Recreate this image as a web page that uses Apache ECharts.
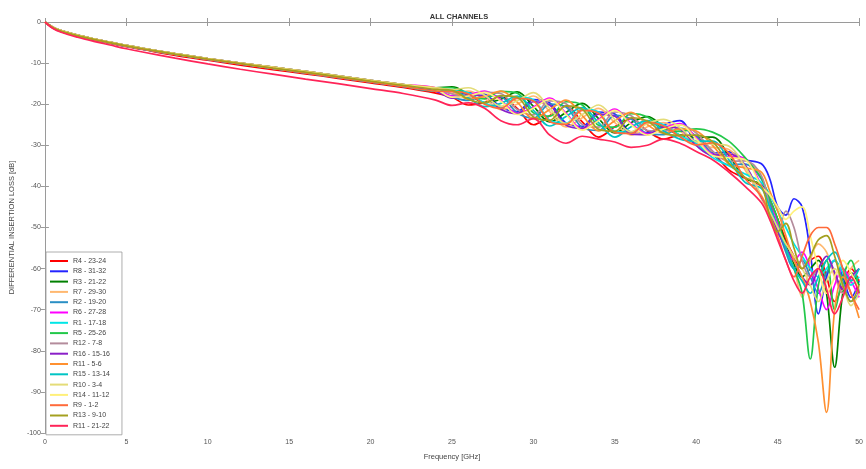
<!DOCTYPE html>
<html>
<head>
<meta charset="utf-8">
<script src="https://cdn.jsdelivr.net/npm/echarts@6/dist/echarts.min.js"></script>
<style>html,body{margin:0;padding:0;background:#fff}#c{width:866px;height:469px}</style>
</head>
<body>
<div id="c"></div>
<script>
// Frequency grid [GHz]
const freq = [0,0.5,1,2,3,4,5,6,8,10,12,14,16,18,20,22,24,
  25,26,27,28,29,30,31,32,33,34,35,36,37,38,39,40,41,42,43,44,
  44.5,45,45.5,46,46.5,47,47.5,48,48.5,49,49.5,50];

const xTicks = [0,5,10,15,20,25,30,35,40,45,50];
const yTicks = [0,-10,-20,-30,-40,-50,-60,-70,-80,-90,-100];

const names = ["R4 - 23-24","R8 - 31-32","R3 - 21-22","R7 - 29-30","R2 - 19-20","R6 - 27-28",
  "R1 - 17-18","R5 - 25-26","R12 - 7-8","R16 - 15-16","R11 - 5-6","R15 - 13-14",
  "R10 - 3-4","R14 - 11-12","R9 - 1-2","R13 - 9-10","R11 - 21-22"];

const r4 = [0,-1.5,-2.3,-3.4,-4.4,-5.2,-6.0,-6.7,-8.1,-9.3,-10.5,-11.6,-12.6,-13.7,-14.8,-15.9,-17.3,
  -18.3,-20.2,-19.6,-18.3,-21.0,-25.0,-22.8,-20.5,-24.3,-28.0,-25.5,-23.5,-26.5,-28.5,-27.5,-28.0,-31.5,-36.0,-38.0,-40.0,
  -44,-48,-53,-57,-60,-58,-57,-62,-68,-64,-60,-63];
const r8 = [0,-1.4,-2.2,-3.3,-4.2,-5.0,-5.8,-6.5,-7.8,-9.0,-10.1,-11.2,-12.2,-13.3,-14.4,-15.4,-16.4,
  -18.0,-17.2,-17.6,-20.7,-21.8,-18.9,-19.7,-24.6,-25.4,-21.9,-22.4,-26.8,-26.9,-25.0,-24.0,-29.6,-31.9,-31.6,-33.5,-34.5,
  -38,-45,-47,-43,-45,-56,-71,-62,-58,-62,-67,-63];
const r3 = [0,-1.3,-2.1,-3.2,-4.1,-4.9,-5.7,-6.4,-7.7,-8.9,-10.0,-11.0,-12.0,-13.1,-14.2,-15.2,-16.0,
  -15.8,-17.5,-19.6,-18.8,-17.0,-20.5,-24.3,-22.0,-19.8,-23.5,-27.0,-24.5,-23.0,-25.5,-27.5,-28.0,-28.0,-32.5,-38.0,-39.5,
  -43,-48,-54,-59,-62,-60,-58,-66,-84,-66,-61,-64];
const r7 = [0,-1.4,-2.2,-3.3,-4.2,-5.0,-5.8,-6.5,-7.8,-9.0,-10.1,-11.2,-12.2,-13.3,-14.4,-15.4,-16.4,
  -17.3,-16.8,-18.6,-21.3,-20.0,-18.0,-21.8,-25.5,-23.3,-21.0,-24.5,-27.5,-25.5,-24.5,-26.5,-30.0,-30.5,-31.0,-36.0,-43.0,
  -47,-50,-55,-60,-67,-58,-54,-56,-62,-66,-60,-58];
const r2 = [0,-1.4,-2.3,-3.4,-4.3,-5.1,-5.9,-6.6,-7.9,-9.1,-10.2,-11.3,-12.4,-13.5,-14.6,-15.7,-16.8,
  -18.3,-19.1,-17.9,-18.2,-22.1,-23.4,-20.0,-20.7,-25.7,-26.4,-22.7,-23.6,-27.2,-27.4,-25.8,-27.8,-32.2,-34.7,-34.6,-38.2,
  -44,-50,-56,-60,-58,-62,-66,-61,-58,-63,-68,-66];
const r6 = [0,-1.3,-2.1,-3.2,-4.1,-4.9,-5.7,-6.4,-7.7,-8.9,-10.0,-11.0,-12.0,-13.1,-14.2,-15.2,-16.0,
  -18.0,-17.7,-16.8,-19.0,-22.2,-20.7,-18.5,-22.2,-26.0,-23.7,-21.2,-24.7,-27.2,-25.7,-24.7,-28.2,-32.2,-32.7,-33.2,-39.7,
  -43,-49,-55,-58,-56,-60,-65,-70,-64,-60,-63,-67];
const r1 = [0,-1.4,-2.2,-3.3,-4.2,-5.0,-5.8,-6.5,-7.8,-9.0,-10.1,-11.2,-12.2,-13.3,-14.4,-15.4,-16.4,
  -16.6,-17.2,-19.7,-20.7,-18.3,-18.9,-23.9,-24.6,-21.2,-21.9,-26.6,-26.8,-24.1,-25.0,-27.6,-29.6,-33.0,-35.0,-37.0,-39.0,
  -42,-46,-50,-54,-57,-60,-62,-60,-58,-61,-64,-62];
const r5 = [0,-1.3,-2.1,-3.2,-4.1,-4.9,-5.7,-6.4,-7.7,-8.9,-10.0,-11.0,-12.0,-13.1,-14.2,-15.2,-16.0,
  -16.0,-17.8,-18.7,-16.9,-17.3,-22.1,-22.9,-19.4,-20.2,-25.1,-25.6,-22.3,-23.1,-26.0,-26.6,-26.0,-26.8,-29.0,-33.0,-38.0,
  -43,-48,-55,-60,-66,-82,-64,-58,-70,-62,-58,-66];
const r12 = [0,-1.4,-2.2,-3.3,-4.2,-5.0,-5.8,-6.5,-7.8,-9.0,-10.1,-11.2,-12.2,-13.3,-14.4,-15.4,-16.4,
  -17.5,-18.3,-17.1,-17.4,-21.3,-22.6,-19.2,-19.9,-24.9,-25.6,-21.9,-22.8,-26.4,-26.6,-25.0,-27.0,-31.4,-33.9,-33.8,-37.4,
  -45,-52,-46,-50,-58,-62,-60,-57,-61,-66,-63,-60];
const r16 = [0,-1.4,-2.3,-3.4,-4.3,-5.1,-5.9,-6.6,-7.9,-9.1,-10.2,-11.3,-12.4,-13.5,-14.6,-15.7,-16.8,
  -18.5,-17.7,-18.1,-21.2,-22.3,-19.4,-20.2,-25.1,-25.9,-22.4,-22.9,-27.3,-27.4,-25.5,-26.0,-30.1,-32.4,-32.1,-34.8,-42.6,
  -46,-51,-55,-58,-62,-64,-60,-57,-61,-65,-62,-60];
const r11a = [0,-1.3,-2.1,-3.2,-4.1,-4.9,-5.7,-6.4,-7.7,-8.9,-10.0,-11.0,-12.0,-13.1,-14.2,-15.2,-16.0,
  -16.8,-18.7,-18.1,-16.8,-19.5,-23.5,-21.3,-19.0,-22.8,-26.5,-24.0,-22.0,-25.0,-27.0,-26.0,-26.5,-30.0,-34.5,-35.5,-36.5,
  -41,-46,-52,-58,-62,-68,-78,-95,-70,-62,-66,-72];
const r15 = [0,-1.4,-2.3,-3.4,-4.3,-5.1,-5.9,-6.6,-7.9,-9.1,-10.2,-11.3,-12.4,-13.5,-14.6,-15.7,-16.8,
  -16.8,-18.5,-20.6,-19.8,-18.0,-21.5,-25.3,-23.0,-20.8,-24.5,-28.0,-25.5,-24.0,-26.5,-28.5,-29.0,-29.0,-33.5,-39.0,-40.5,
  -45,-50,-55,-60,-63,-66,-62,-58,-56,-60,-63,-60];
const r10 = [0,-1.3,-2.1,-3.2,-4.1,-4.9,-5.7,-6.4,-7.7,-8.9,-10.0,-11.0,-12.0,-13.1,-14.2,-15.2,-16.0,
  -16.5,-16.0,-17.8,-20.5,-19.2,-17.2,-21.0,-24.7,-22.5,-20.2,-23.7,-26.7,-24.7,-23.7,-25.7,-29.2,-29.7,-30.2,-35.2,-42.2,
  -46,-50,-54,-57,-60,-64,-68,-63,-60,-64,-69,-66];
const r14 = [0,-1.4,-2.2,-3.3,-4.2,-5.0,-5.8,-6.5,-7.8,-9.0,-10.1,-11.2,-12.2,-13.3,-14.4,-15.4,-16.4,
  -18.3,-18.0,-17.1,-19.3,-22.5,-21.0,-18.8,-22.5,-26.3,-24.0,-21.5,-25.0,-27.5,-26.0,-25.0,-28.5,-32.5,-33.0,-33.5,-40.0,
  -42,-45,-48,-46,-45,-52,-60,-66,-62,-58,-61,-65];
const r9 = [0,-1.4,-2.3,-3.4,-4.3,-5.1,-5.9,-6.6,-7.9,-9.1,-10.2,-11.3,-12.4,-13.5,-14.6,-15.7,-16.8,
  -16.9,-17.5,-20.0,-21.0,-18.6,-19.2,-24.2,-24.9,-21.5,-22.2,-26.9,-27.1,-24.4,-25.3,-27.9,-29.9,-29.4,-31.9,-38.1,-42.4,
  -47,-52,-58,-62,-57,-52,-50,-50,-54,-60,-66,-70];
const r13 = [0,-1.4,-2.2,-3.3,-4.2,-5.0,-5.8,-6.5,-7.8,-9.0,-10.1,-11.2,-12.2,-13.3,-14.4,-15.4,-16.4,
  -16.6,-18.8,-19.7,-17.9,-18.3,-23.1,-23.9,-20.4,-21.2,-26.1,-26.6,-23.3,-24.1,-27.1,-27.6,-27.5,-29.1,-34.4,-37.8,-40.0,
  -47,-51,-49,-55,-60,-57,-53,-52,-57,-64,-68,-64];
const r11b = [0,-1.6,-2.5,-3.7,-4.7,-5.6,-6.5,-7.3,-8.8,-10.2,-11.5,-12.7,-13.9,-15.0,-16.2,-17.4,-19.0,
  -20.3,-19.7,-21.0,-24.0,-25.0,-23.5,-27.5,-29.5,-27.8,-28.5,-29.2,-30.5,-30.0,-28.5,-29.5,-31.5,-33.5,-36.5,-40.0,-44.0,
  -48,-53,-58,-63,-66,-62,-60,-65,-71,-67,-62,-66];

const values = [r4,r8,r3,r7,r2,r6,r1,r5,r12,r16,r11a,r15,r10,r14,r9,r13,r11b];

const palette = ['#ff0000','#2424ff','#008000','#ffb870','#2a8fc4','#ff00ff','#00e6e6','#22c84a',
  '#b48c9c','#8a1fc8','#ff9030','#00c4c4','#e4dc78','#fff07a','#ff6a3a','#a4a020','#ff2458'];

const FONT = '"Liberation Sans", Arial, sans-serif';
const chart = echarts.init(document.getElementById('c'), null, {renderer: 'canvas'});

const series = values.map((v, k) => ({
  name: names[k],
  type: 'line',
  data: freq.map((f, i) => [f, v[i]]),
  showSymbol: false,
  symbol: 'none',
  smooth: 0.35,
  lineStyle: {width: 1.7, color: palette[k]},
  itemStyle: {color: palette[k]},
  animation: false,
  z: 2
}));

const axisGray = '#9a9a9a';
chart.setOption({
  backgroundColor: '#ffffff',
  animation: false,
  title: {
    text: 'ALL CHANNELS', left: 454, top: 8, textAlign: 'center',
    textStyle: {fontFamily: FONT, fontSize: 7.5, fontWeight: 'bold', color: '#333'}
  },
  grid: {left: 42, right: 1, top: 22, bottom: 36, show: false},
  legend: {
    orient: 'vertical', left: 46, top: 252,
    data: names,
    icon: 'rect', itemWidth: 18, itemHeight: 2, itemGap: 0.3,
    padding: [4, 12, 4, 4],
    borderColor: '#999', borderWidth: 0.8, backgroundColor: '#fff',
    textStyle: {fontFamily: FONT, fontSize: 7, color: '#444', lineHeight: 10},
    selectedMode: false
  },
  xAxis: [{
    type: 'value', min: 0, max: 50, interval: 5, position: 'bottom',
    name: 'Frequency [GHz]', nameLocation: 'middle', nameGap: 20,
    nameTextStyle: {fontFamily: FONT, fontSize: 7.5, color: '#444'},
    axisLine: {show: true, lineStyle: {color: axisGray, width: 1}},
    axisTick: {show: true, inside: true, length: 4, lineStyle: {color: axisGray}},
    axisLabel: {fontFamily: FONT, fontSize: 7, color: '#555', margin: 6,
      formatter: v => xTicks.includes(v) ? String(v) : ''},
    splitLine: {show: false}
  }, {
    type: 'value', min: 0, max: 50, interval: 5, position: 'top',
    axisLine: {show: true, lineStyle: {color: axisGray, width: 1}},
    axisTick: {show: true, inside: true, length: 4, lineStyle: {color: axisGray}},
    axisLabel: {show: false}, splitLine: {show: false}
  }],
  yAxis: [{
    type: 'value', min: -100, max: 0, interval: 10, position: 'left',
    name: 'DIFFERENTIAL INSERTION LOSS [dB]', nameLocation: 'middle', nameGap: 28,
    nameRotate: 90,
    nameTextStyle: {fontFamily: FONT, fontSize: 7.5, color: '#444'},
    axisLine: {show: true, lineStyle: {color: axisGray, width: 1}},
    axisTick: {show: true, inside: true, length: 4, lineStyle: {color: axisGray}},
    axisLabel: {fontFamily: FONT, fontSize: 7, color: '#555', margin: 4,
      formatter: v => yTicks.includes(v) ? String(v) : ''},
    splitLine: {show: false}
  }, {
    type: 'value', min: -100, max: 0, interval: 10, position: 'right',
    axisLine: {show: true, lineStyle: {color: axisGray, width: 1}},
    axisTick: {show: true, inside: true, length: 4, lineStyle: {color: axisGray}},
    axisLabel: {show: false}, splitLine: {show: false}
  }],
  series: series
});
</script>
</body>
</html>
